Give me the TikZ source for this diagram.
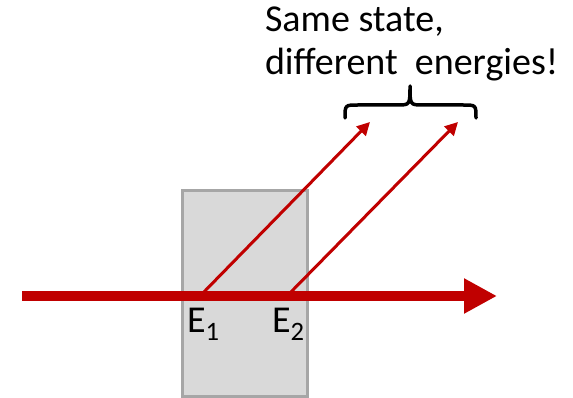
\documentclass[tikz,border=0pt]{standalone}
\usepackage{fontspec}
\setmainfont{Carlito}
\usetikzlibrary{arrows.meta}
\definecolor{beamred}{HTML}{C00000}
\definecolor{slabfill}{HTML}{D9D9D9}
\definecolor{slabdraw}{HTML}{A6A6A6}

\begin{document}
\begin{tikzpicture}[x=1pt,y=-1pt,every node/.style={inner sep=0pt,outer sep=0pt},
  slab/.style={draw=slabdraw,fill=slabfill,line width=3pt,minimum width=125pt,minimum height=205pt},
  beam/.style={draw=beamred,line width=10pt,-{Triangle[length=33pt,width=33pt]}},
  ray/.style={draw=beamred,line width=3pt,-{Triangle[length=13pt,width=13pt]}},
  lbl/.style={font=\fontsize{38}{43}\selectfont,anchor=base west}]
    \useasboundingbox (0,0) rectangle (573,398);
    \node[slab,anchor=north west](slab) at (182,191){};
    \coordinate (start) at (22,296);
    \coordinate (end) at (497,296);
    \coordinate (e1) at (200,296);
    \coordinate (e2) at (287,296);
    \coordinate (out1) at (370,122);
    \coordinate (out2) at (458,122);
    \draw[ray](e1)--(out1);
    \draw[ray](e2)--(out2);
    \draw[beam](start)--(end);
    \node[lbl](E1) at (187,332){E\textsubscript{1}};
    \node[lbl](E2) at (272,332){E\textsubscript{2}};
    % brace over the two outgoing rays
    \coordinate (bl) at (345,118);
    \coordinate (btip) at (410,86);
    \coordinate (br) at (476,118);
    \draw[line width=3.5pt,line cap=round,line join=round](bl)
      .. controls (345,105) .. (358,105) -- (397,105)
      .. controls (410,105) .. (btip)
      .. controls (410,105) .. (423,105) -- (463,105)
      .. controls (476,105) .. (br);
    \node[lbl,align=left](note) at (265,75){Same state,\\different\ \ energies!};
\end{tikzpicture}
\end{document}
